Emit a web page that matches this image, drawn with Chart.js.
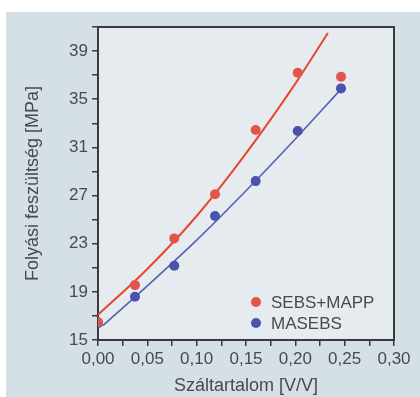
<!DOCTYPE html>
<html>
<head>
<meta charset="utf-8">
<script src="https://cdn.jsdelivr.net/npm/chart.js@4.4.1/dist/chart.umd.min.js"></script>
<style>
  html, body { margin: 0; padding: 0; background: #ffffff; }
  #wrap { width: 420px; height: 397px; }
</style>
</head>
<body>
<div id="wrap"><canvas id="yieldChart" width="420" height="397"></canvas></div>
<script>
// Measured points (fibre content vs. yield stress)
const fiberContent = [0, 0.0375, 0.0773, 0.1186, 0.1598, 0.2024, 0.2463];
const sebsMapp = [16.5, 19.56, 23.44, 27.1, 32.44, 37.2, 36.86];
const masebs = [16.4, 18.6, 21.17, 25.3, 28.2, 32.36, 35.9];

// Fit curves
const fitRedX = [0, 0.05, 0.10, 0.15, 0.20, 0.233];
const fitRedY = [17.1, 20.9, 25.3, 30.5, 36.3, 40.5];
const fitBlueX = [0.005, 0.05, 0.10, 0.15, 0.20, 0.247];
const fitBlueY = [16.2, 19.5, 23.3, 27.4, 31.7, 35.9];

const seriesLabels = ['SEBS+MAPP', 'MASEBS'];
const yLabelTicks = [15, 19, 23, 27, 31, 35, 39];

const toPoints = (xs, ys) => xs.map((x, i) => ({ x: x, y: ys[i] }));

const textColor = '#4a4a4a';
const fontFamily = '"Liberation Sans", Arial, sans-serif';

// Backgrounds, frame and legend
const decorPlugin = {
    id: 'decor',
    beforeDraw(chart) {
        const ctx = chart.ctx;
        const a = chart.chartArea;
        ctx.save();
        ctx.fillStyle = '#ffffff';
        ctx.fillRect(0, 0, chart.width, chart.height);
        ctx.fillStyle = '#d4dfe6';
        ctx.fillRect(6, 12, chart.width - 6, chart.height - 12);
        ctx.fillStyle = '#e5ebef';
        ctx.fillRect(a.left, a.top, a.right - a.left, a.bottom - a.top);
        ctx.restore();
    },
    beforeDatasetsDraw(chart) {
        const ctx = chart.ctx;
        const a = chart.chartArea;
        ctx.save();
        ctx.strokeStyle = '#3a3a3a';
        ctx.lineWidth = 2;
        ctx.strokeRect(a.left, a.top, a.right - a.left, a.bottom - a.top);
        ctx.restore();
    },
    afterDatasetsDraw(chart) {
        const ctx = chart.ctx;
        ctx.save();
        ctx.font = '17px ' + fontFamily;
        ctx.textBaseline = 'middle';
        ctx.textAlign = 'left';
        chart.data.datasets.slice(0, 2).forEach((ds, i) => {
            const y = 302 + i * 21;
            ctx.fillStyle = ds.backgroundColor;
            ctx.beginPath();
            ctx.arc(256, y, 5, 0, Math.PI * 2);
            ctx.fill();
            ctx.fillStyle = textColor;
            ctx.fillText(ds.label, 271, y + 1);
        });
        ctx.restore();
    }
};

const ctx = document.getElementById('yieldChart').getContext('2d');
new Chart(ctx, {
    type: 'scatter',
    data: {
        datasets: [
            {
                label: seriesLabels[0],
                data: toPoints(fiberContent, sebsMapp),
                backgroundColor: '#e2554a',
                borderWidth: 0,
                pointRadius: 5,
                order: 1
            },
            {
                label: seriesLabels[1],
                data: toPoints(fiberContent, masebs),
                backgroundColor: '#4a52ad',
                borderWidth: 0,
                pointRadius: 5,
                order: 2
            },
            {
                label: 'fit1',
                data: toPoints(fitRedX, fitRedY),
                showLine: true,
                borderColor: '#e8472f',
                borderWidth: 2,
                pointRadius: 0,
                cubicInterpolationMode: 'monotone',
                order: 3
            },
            {
                label: 'fit2',
                data: toPoints(fitBlueX, fitBlueY),
                showLine: true,
                borderColor: '#5560b2',
                borderWidth: 1.6,
                pointRadius: 0,
                cubicInterpolationMode: 'monotone',
                order: 4
            }
        ]
    },
    options: {
        responsive: false,
        animation: false,
        layout: { padding: { top: 27, right: 26, bottom: 0, left: 0 } },
        plugins: {
            legend: { display: false },
            tooltip: { enabled: false }
        },
        scales: {
            x: {
                type: 'linear',
                min: 0,
                max: 0.3,
                afterFit(scale) { scale.height = 57; },
                border: { display: false },
                grid: { drawOnChartArea: false, tickLength: 6, color: '#3a3a3a', lineWidth: 1.5 },
                ticks: {
                    stepSize: 0.025,
                    autoSkip: false,
                    maxRotation: 0,
                    padding: 3,
                    color: textColor,
                    font: { size: 17, family: fontFamily },
                    callback: (value, index) => index % 2 === 0 ? value.toFixed(2).replace('.', ',') : ''
                },
                title: {
                    display: true,
                    text: 'Száltartalom [V/V]',
                    color: textColor,
                    font: { size: 18, family: fontFamily },
                    padding: { top: 0, bottom: 0 }
                }
            },
            y: {
                min: 15,
                max: 41,
                afterFit(scale) { scale.width = 98; },
                border: { display: false },
                grid: { drawOnChartArea: false, tickLength: 6, color: '#3a3a3a', lineWidth: 1.5 },
                ticks: {
                    stepSize: 2,
                    autoSkip: false,
                    padding: 4,
                    color: textColor,
                    font: { size: 17, family: fontFamily },
                    callback: value => yLabelTicks.includes(value) ? String(value) : ''
                },
                title: {
                    display: true,
                    text: 'Folyási feszültség [MPa]',
                    color: textColor,
                    font: { size: 18, family: fontFamily },
                    padding: { top: 22, bottom: 0 }
                }
            }
        }
    },
    plugins: [decorPlugin]
});
</script>
</body>
</html>
